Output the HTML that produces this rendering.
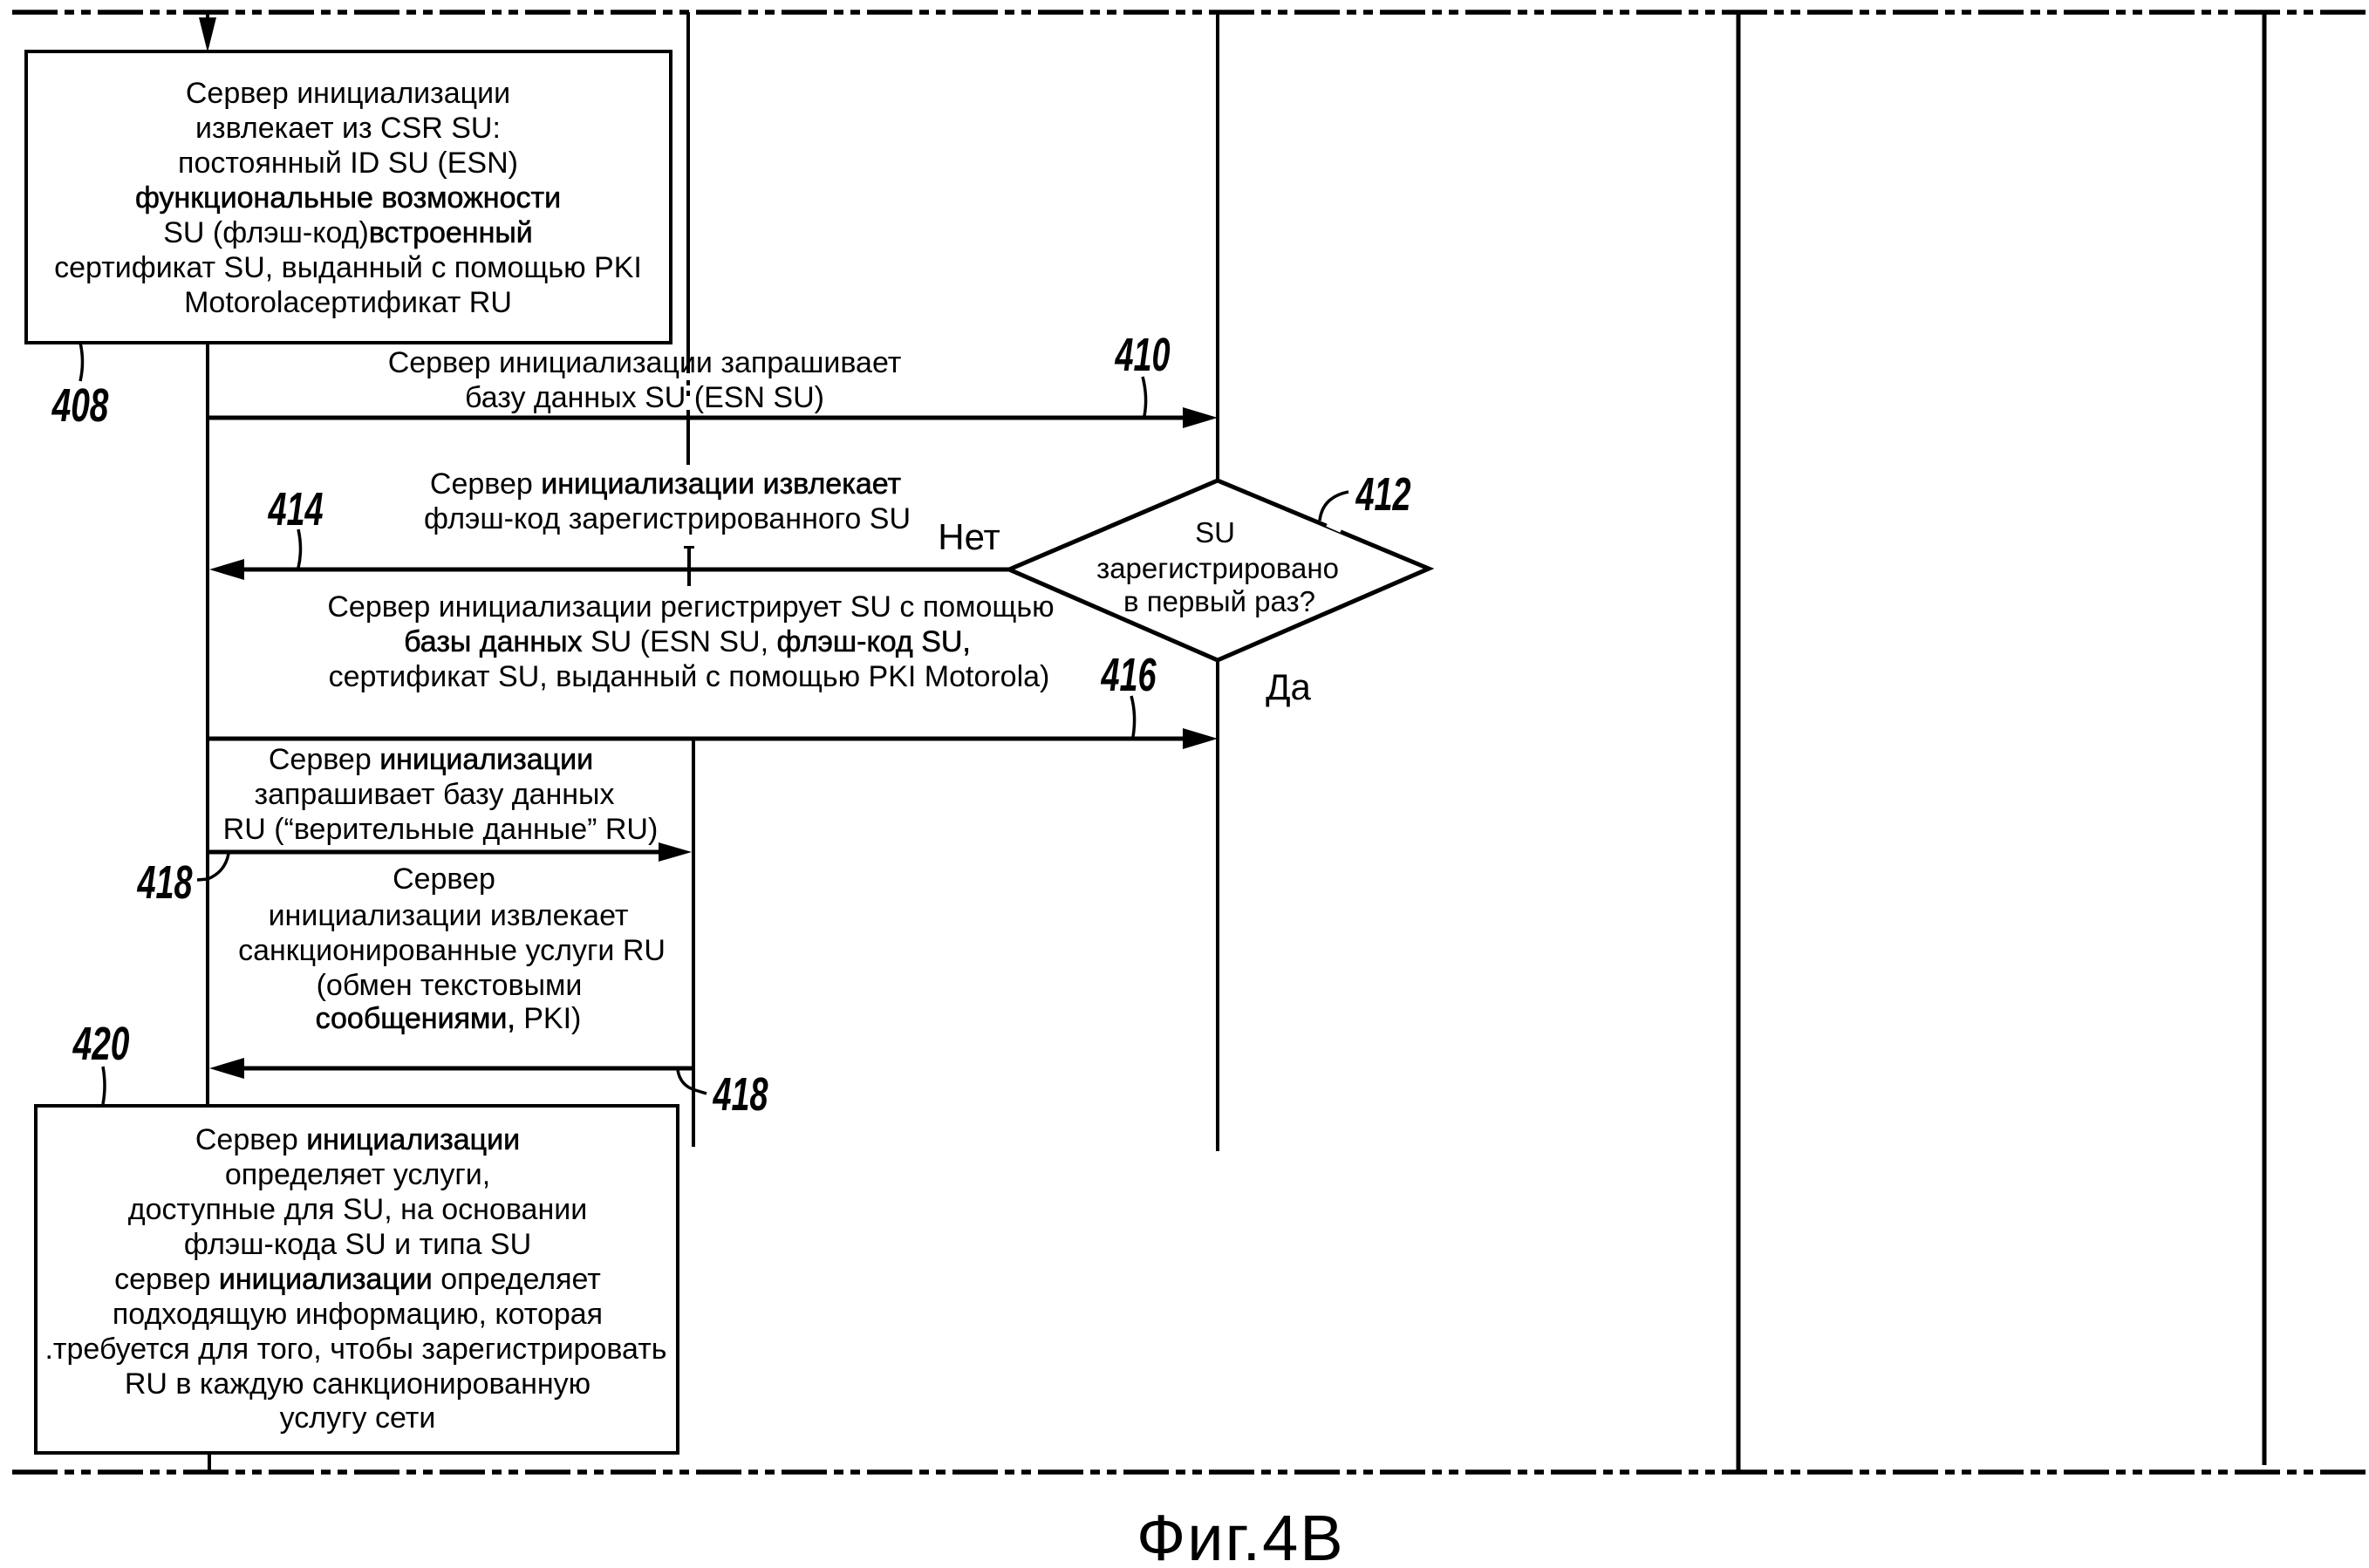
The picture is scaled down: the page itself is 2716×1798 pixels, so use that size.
<!DOCTYPE html>
<html>
<head>
<meta charset="utf-8">
<style>
html,body{margin:0;padding:0;background:#fff;}
svg{display:block;}
.t{font-family:"Liberation Sans","DejaVu Sans",sans-serif;font-size:34px;fill:#000;text-anchor:middle;}
.b{stroke:#000;stroke-width:0.6px;}
.lab{font-family:"Liberation Sans",sans-serif;font-weight:bold;font-style:italic;font-size:54px;fill:#000;text-anchor:middle;}
.ln{stroke:#000;fill:none;}
</style>
</head>
<body>
<svg width="2716" height="1798" viewBox="0 0 2716 1798" xmlns="http://www.w3.org/2000/svg">
<rect width="2716" height="1798" fill="#fff"/>

<!-- dashed boundaries -->
<line x1="14" y1="14" x2="2712" y2="14" stroke="#000" stroke-width="5.5" stroke-dasharray="52 8 11 8 11 8"/>
<line x1="14" y1="1688" x2="2712" y2="1688" stroke="#000" stroke-width="5.5" stroke-dasharray="52 8 11 8 11 8"/>

<!-- lifelines -->
<g class="ln" stroke-width="4">
  <line x1="238" y1="14" x2="238" y2="24"/>
  <line x1="238" y1="393" x2="238" y2="1268"/>
  <line x1="240" y1="1666" x2="240" y2="1688"/>
  <line x1="789" y1="14" x2="789" y2="428"/>
  <line x1="789" y1="470" x2="789" y2="533"/>
  <line x1="790" y1="627" x2="790" y2="672"/>
  <line x1="795" y1="847" x2="795" y2="1315"/>
  <line x1="1396" y1="14" x2="1396" y2="551"/>
  <line x1="1396" y1="757" x2="1396" y2="1320"/>
  <line x1="1993" y1="14" x2="1993" y2="1688" stroke-width="5"/>
  <line x1="2596" y1="14" x2="2596" y2="1680" stroke-width="5"/>
</g>
<!-- small dotted bits on L2 -->
<g fill="#000">
  <rect x="787" y="436" width="4" height="6"/>
  <rect x="787" y="448" width="4" height="6"/>
  <rect x="784" y="626" width="12" height="3"/>
</g>

<!-- top arrow into box 1 -->
<polygon points="228,20 248,20 238,60" fill="#000"/>

<!-- Box 1 -->
<rect x="30" y="59" width="739" height="334" fill="none" stroke="#000" stroke-width="4"/>
<text class="t" x="399" y="118">Сервер инициализации</text>
<text class="t" x="399" y="158">извлекает из CSR SU:</text>
<text class="t" x="399" y="198">постоянный ID SU (ESN)</text>
<text class="t b" x="399" y="238">функциональные возможности</text>
<text class="t" x="399" y="278">SU (флэш-код)<tspan class="b">встроенный</tspan></text>
<text class="t" x="399" y="318">сертификат SU, выданный с помощью PKI</text>
<text class="t" x="399" y="358">Motorolaсертификат RU</text>

<!-- Arrow 410 -->
<line x1="238" y1="479" x2="1362" y2="479" stroke="#000" stroke-width="5"/>
<polygon points="1356,467 1396,479 1356,491" fill="#000"/>
<text class="t" x="739" y="427">Сервер инициализации запрашивает</text>
<text class="t" x="739" y="467">базу данных SU (ESN SU)</text>

<!-- Diamond 412 -->
<polygon points="1396,551 1638,652 1396,757 1157,653" fill="none" stroke="#000" stroke-width="5" stroke-linejoin="miter"/>
<line x1="1522" y1="600" x2="1538" y2="607" stroke="#fff" stroke-width="8"/>
<text class="t" style="font-size:33px" x="1393" y="622">SU</text>
<text class="t" style="font-size:33px" x="1396" y="663">зарегистрировано</text>
<text class="t" style="font-size:33px" x="1398" y="701">в первый раз?</text>
<text class="t" style="font-size:42px" x="1111" y="630">Нет</text>
<text class="t" style="font-size:42px" x="1477" y="802">Да</text>

<!-- Arrow 414 -->
<line x1="1157" y1="653" x2="274" y2="653" stroke="#000" stroke-width="5"/>
<polygon points="280,641 240,653 280,665" fill="#000"/>
<text class="t" x="763" y="566">Сервер <tspan class="b">инициализации извлекает</tspan></text>
<text class="t" x="765" y="606">флэш-код зарегистрированного SU</text>

<!-- Arrow 416 -->
<line x1="238" y1="847" x2="1362" y2="847" stroke="#000" stroke-width="5"/>
<polygon points="1356,835 1396,847 1356,859" fill="#000"/>
<text class="t" x="792" y="707">Сервер инициализации регистрирует SU с помощью</text>
<text class="t" x="788" y="747"><tspan class="b">базы данных</tspan> SU (ESN SU, <tspan class="b">флэш-код SU,</tspan></text>
<text class="t" x="790" y="787">сертификат SU, выданный с помощью PKI Motorola)</text>

<!-- Arrow 418a -->
<line x1="238" y1="977" x2="760" y2="977" stroke="#000" stroke-width="5"/>
<polygon points="755,966 793,977 755,988" fill="#000"/>
<text class="t" x="494" y="882">Сервер <tspan class="b">инициализации</tspan></text>
<text class="t" x="498" y="922">запрашивает базу данных</text>
<text class="t" x="505" y="962">RU (“верительные данные” RU)</text>

<text class="t" x="509" y="1019">Сервер</text>
<text class="t" x="514" y="1061">инициализации извлекает</text>
<text class="t" x="518" y="1101">санкционированные услуги RU</text>
<text class="t" x="515" y="1141">(обмен текстовыми</text>
<text class="t" x="514" y="1179"><tspan class="b">сообщениями,</tspan> PKI)</text>

<!-- Arrow 418b -->
<line x1="795" y1="1225" x2="274" y2="1225" stroke="#000" stroke-width="5"/>
<polygon points="280,1213 240,1225 280,1237" fill="#000"/>

<!-- Box 420 -->
<rect x="41" y="1268" width="736" height="398" fill="none" stroke="#000" stroke-width="4"/>
<text class="t" x="410" y="1318">Сервер <tspan class="b">инициализации</tspan></text>
<text class="t" x="410" y="1358">определяет услуги,</text>
<text class="t" x="410" y="1398">доступные для SU, на основании</text>
<text class="t" x="410" y="1438">флэш-кода SU и типа SU</text>
<text class="t" x="410" y="1478">сервер <tspan class="b">инициализации</tspan> определяет</text>
<text class="t" x="410" y="1518">подходящую информацию, которая</text>
<text class="t" x="408" y="1558">.требуется для того, чтобы зарегистрировать</text>
<text class="t" x="410" y="1598">RU в каждую санкционированную</text>
<text class="t" x="410" y="1637">услугу сети</text>

<!-- leaders -->
<g class="ln" stroke-width="3.5">
  <path d="M92,393 Q97,415 92,437"/>
  <path d="M1310,432 Q1316,455 1312,477"/>
  <path d="M1513,597 Q1516,570 1546,564"/>
  <path d="M342,607 Q347,630 342,651"/>
  <path d="M1297,798 Q1303,820 1299,845"/>
  <path d="M226,1009 L238,1008 Q258,1000 262,979"/>
  <path d="M777,1227 Q780,1245 797,1250 L810,1254"/>
  <path d="M118,1223 Q122,1245 118,1266"/>
</g>

<!-- reference labels -->
<text class="lab" transform="translate(92,483) scale(0.72,1)">408</text>
<text class="lab" transform="translate(1310,425) scale(0.7,1)">410</text>
<text class="lab" transform="translate(1586,585) scale(0.7,1)">412</text>
<text class="lab" transform="translate(339,602) scale(0.7,1)">414</text>
<text class="lab" transform="translate(1294,792) scale(0.7,1)">416</text>
<text class="lab" transform="translate(189,1030) scale(0.7,1)">418</text>
<text class="lab" transform="translate(849,1273) scale(0.7,1)">418</text>
<text class="lab" transform="translate(116,1215) scale(0.72,1)">420</text>

<!-- figure caption -->
<text x="1303" y="1789" style="font-family:'Liberation Sans',sans-serif;font-size:74px;letter-spacing:2px;fill:#000;">Фиг.4B</text>
</svg>
</body>
</html>
